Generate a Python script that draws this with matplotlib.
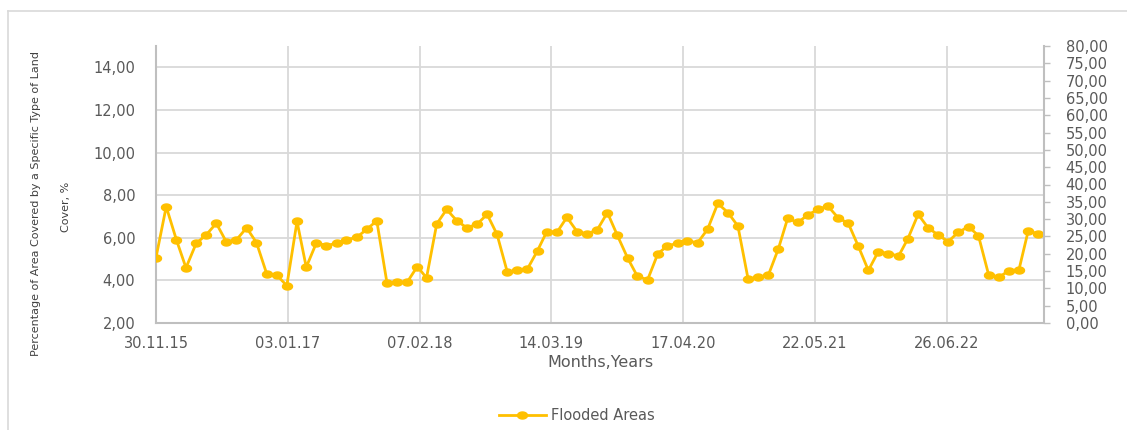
import matplotlib
matplotlib.use("Agg")
import matplotlib.pyplot as plt
import matplotlib.dates as mdates
from matplotlib import font_manager
from matplotlib.path import Path
from matplotlib.lines import Line2D
import numpy as np
import pandas as pd

# monthly observations, month-end dates
try:
    dates = pd.date_range("2015-11-30", periods=89, freq="ME")
except ValueError:
    dates = pd.date_range("2015-11-30", periods=89, freq="M")

flooded = [5.07, 7.46, 5.90, 4.59, 5.74, 6.13, 6.68, 5.82, 5.90, 6.47,
           5.77, 4.31, 4.26, 3.75, 6.77, 4.62, 5.77, 5.63, 5.74, 5.90,
           6.02, 6.40, 6.80, 3.88, 3.91, 3.91, 4.65, 4.12, 6.65, 7.33,
           6.80, 6.47, 6.63, 7.10, 6.16, 4.40, 4.47, 4.53, 5.40, 6.29,
           6.26, 6.96, 6.29, 6.18, 6.37, 7.18, 6.12, 5.06, 4.19, 4.03,
           5.25, 5.62, 5.74, 5.85, 5.77, 6.40, 7.61, 7.18, 6.55, 4.06,
           4.16, 4.23, 5.49, 6.91, 6.72, 7.07, 7.33, 7.49, 6.94, 6.68,
           5.62, 4.47, 5.35, 5.25, 5.15, 5.96, 7.10, 6.47, 6.13, 5.82,
           6.26, 6.52, 6.10, 4.26, 4.14, 4.45, 4.50, 6.32, 6.18]

x_start = pd.Timestamp("2015-11-30")
x_end = pd.Timestamp("2023-04-17")
tick_dates = [x_start + pd.Timedelta(days=400 * k) for k in range(7)]
left_ticks = [2, 4, 6, 8, 10, 12, 14]
right_ticks = list(range(0, 85, 5))

series_name = "Flooded Areas"
ylabel_1 = "Percentage of Area Covered by a Specific Type of Land"
ylabel_2 = "Cover, %"
xlabel = "Months,Years"

GOLD = "#FFC000"
GRID = "#D9D9D9"
AXIS = "#BFBFBF"
TXT = "#595959"

names = {f.name for f in font_manager.fontManager.ttflist}
if "Liberation Sans Narrow" in names:
    yl_font, yl_size = "Liberation Sans Narrow", 11.5
else:
    yl_font, yl_size = "DejaVu Sans", 8.0

plt.rcParams["font.family"] = ["DejaVu Sans"]

fig = plt.figure(figsize=(11.27, 4.30), dpi=100)
ax = fig.add_axes([156 / 1127, 1 - 323 / 430, 888 / 1127, 277 / 430])

# slightly flattened circle marker, like the stretched original
t = np.linspace(0, 2 * np.pi, 60)
ell = Path(np.column_stack([np.cos(t), 0.7 * np.sin(t)]), closed=True)

ax.plot(dates, flooded, color=GOLD, lw=2.0, marker=ell, markersize=7.2,
        markerfacecolor=GOLD, markeredgecolor=GOLD, zorder=3,
        label=series_name)

ax.set_xlim(x_start, x_end)
ax.set_ylim(2, 15)
ax.set_yticks(left_ticks)
ax.set_yticklabels([f"{v:.2f}".replace(".", ",") for v in left_ticks])
ax.set_xticks(tick_dates)
ax.xaxis.set_major_formatter(mdates.DateFormatter("%d.%m.%y"))

ax.grid(True, color=GRID, lw=1.3)
ax.set_axisbelow(True)
for s in ["top", "right"]:
    ax.spines[s].set_visible(False)
for s in ["left", "bottom"]:
    ax.spines[s].set_color(AXIS)
    ax.spines[s].set_linewidth(1.5)
ax.tick_params(axis="y", length=0, pad=15, labelsize=10.5, labelcolor=TXT)
ax.tick_params(axis="x", length=0, pad=9, labelsize=10.5, labelcolor=TXT)

ax2 = ax.twinx()
ax2.set_ylim(0, 80)
ax2.set_yticks(right_ticks)
ax2.set_yticklabels([f"{v:.2f}".replace(".", ",") for v in right_ticks])
for s in ["top", "left", "bottom"]:
    ax2.spines[s].set_visible(False)
ax2.spines["right"].set_color(AXIS)
ax2.spines["right"].set_linewidth(1.5)
ax2.tick_params(axis="y", length=4.5, width=1, color=AXIS, pad=11,
                labelsize=10.5, labelcolor=TXT)

ax.set_xlabel(xlabel, fontsize=11.5, color=TXT, labelpad=3)

fig.text(36 / 1127, 1 - 203 / 430, ylabel_1, rotation=90, ha="center",
         va="center", fontsize=yl_size, family=yl_font, color="#404040")
fig.text(66 / 1127, 1 - 207 / 430, ylabel_2, rotation=90, ha="center",
         va="center", fontsize=yl_size, family=yl_font, color="#404040")

fig.legend(handles=ax.get_lines(), loc="center", ncol=1, frameon=False,
           bbox_to_anchor=(577 / 1127, 1 - 416 / 430), fontsize=10.5,
           labelcolor=TXT, handlelength=3.2, handletextpad=0.4)

# outer chart frame (cropped on right and bottom)
fig.add_artist(Line2D([8 / 1127, 8 / 1127], [0, 1 - 11 / 430],
                      transform=fig.transFigure, color=GRID, lw=1.2))
fig.add_artist(Line2D([8 / 1127, 1], [1 - 11 / 430, 1 - 11 / 430],
                      transform=fig.transFigure, color=GRID, lw=1.2))

fig.savefig("out.png", dpi=100)
